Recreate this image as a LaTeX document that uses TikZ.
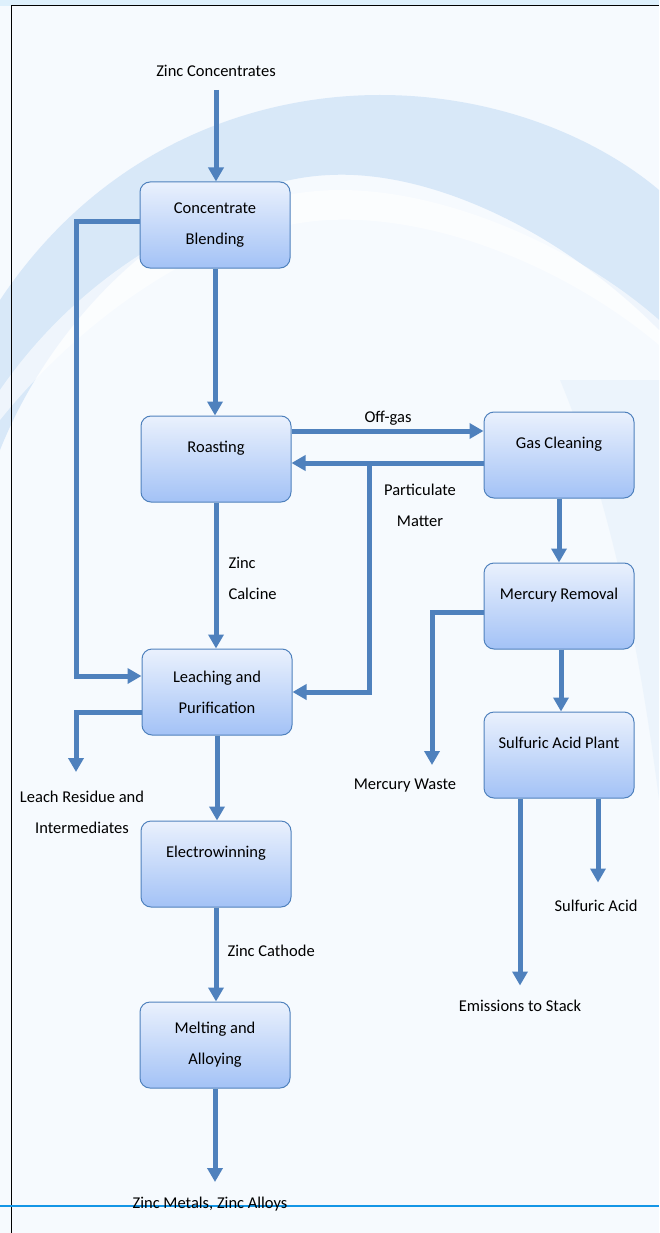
\documentclass[tikz,border=0pt]{standalone}
\usepackage{fontspec}
\setmainfont{Carlito}
\definecolor{flowblue}{RGB}{79,129,189}
\definecolor{boxtop}{RGB}{234,241,253}
\definecolor{boxbottom}{RGB}{163,194,246}
\definecolor{pagebg}{RGB}{246,250,254}
\definecolor{topband}{RGB}{222,240,252}
\definecolor{swoosh}{RGB}{196,220,245}
\definecolor{rulecyan}{RGB}{20,150,230}
\usetikzlibrary{arrows.meta, positioning, calc}

\begin{document}
\begin{tikzpicture}[x=1pt, y=-1pt,
  procbox/.style={draw=flowblue, line width=1pt, rounded corners=10pt, top color=boxtop, bottom color=boxbottom, minimum width=150pt, minimum height=86pt, align=center, font=\fontsize{16.5}{31}\selectfont},
  oneline/.style={text depth=25pt},
  flow/.style={draw=flowblue, line width=5pt, -{Triangle[length=14pt,width=15pt]}},
  lbl/.style={font=\fontsize{16.5}{31}\selectfont, align=center, text=black}]

  % page background
  \useasboundingbox (0,0) rectangle (659,1233);
  \fill[pagebg] (0,0) rectangle (659,1233);
  \fill[topband] (0,0) rectangle (659,6);
  \fill[swoosh, opacity=0.6] (0,300) .. controls (100,150) and (250,95) .. (380,95) .. controls (500,95) and (600,140) .. (659,190)
    -- (659,330) .. controls (560,230) and (430,170) .. (330,175) .. controls (200,180) and (60,300) .. (0,450) -- cycle;
  \fill[white, opacity=0.6] (0,390) .. controls (90,260) and (230,190) .. (340,190) .. controls (450,190) and (580,250) .. (659,320)
    -- (659,345) .. controls (570,270) and (440,215) .. (330,220) .. controls (210,225) and (80,320) .. (0,420) -- cycle;
  \fill[swoosh, opacity=0.18] (560,380) -- (659,380) -- (659,800) .. controls (640,650) and (610,500) .. (560,380) -- cycle;
  \draw[black, line width=1pt] (11,1233) -- (11,6) -- (659,6);
  \draw[rulecyan, line width=2pt] (0,1206) -- (659,1206);

  % process boxes
  \node[procbox] (blend) at (215,225) {Concentrate\\Blending};
  \node[procbox, oneline] (roast) at (216,459) {Roasting};
  \node[procbox] (leach) at (217,692) {Leaching and\\Purification};
  \node[procbox, oneline] (elec) at (216,864) {Electrowinning};
  \node[procbox] (melt) at (215,1045) {Melting and\\Alloying};
  \node[procbox, oneline] (gas) at (559,455) {Gas Cleaning};
  \node[procbox, oneline] (merc) at (559,606) {Mercury Removal};
  \node[procbox, oneline] (acid) at (559,755) {Sulfuric Acid Plant};

  % stream labels
  \node[lbl] (feed) at (216,71) {Zinc Concentrates};
  \node[lbl] (offgas) at (388,418) {Off-gas};
  \node[lbl] (partic) at (420,505) {Particulate\\Matter};
  \node[lbl, align=left, anchor=west] (calcine) at (225,578) {Zinc\\Calcine};
  \node[lbl] (residue) at (82,812) {Leach Residue and\\Intermediates};
  \node[lbl, anchor=west] (cathode) at (224,951) {Zinc Cathode};
  \node[lbl] (product) at (210,1204) {Zinc Metals, Zinc Alloys};
  \node[lbl] (hgwaste) at (405,786) {Mercury Waste};
  \node[lbl] (stack) at (520,1006) {Emissions to Stack};
  \node[lbl] (sulfacid) at (596,906) {Sulfuric Acid};

  \coordinate (blendloop) at (76,676);
  \coordinate (residueend) at (76,772);
  \coordinate (pmsplit) at (369,463);
  \coordinate (hgend) at (432,765);

  % connectors
  \draw[flow] (feed.south |- 0,90) -- (feed.south |- blend.north);
  \draw[flow] ([yshift=3pt]blend.west) -| (blendloop) -- (blendloop -| leach.west);
  \draw[flow] (blend.south) -- (blend.south |- roast.north);
  \draw[flow] ([yshift=28pt]roast.east) -- ([yshift=28pt]roast.east -| gas.west);
  \draw[flow] ([yshift=-8pt]gas.west) -- ([yshift=-8pt]gas.west -| roast.east);
  \draw[flow] (pmsplit) |- (leach.east);
  \draw[flow] (roast.south) -- (roast.south |- leach.north);
  \draw[flow] ([yshift=-20pt]leach.west) -| (residueend);
  \draw[flow] (leach.south) -- (leach.south |- elec.north);
  \draw[flow] (elec.south) -- (elec.south |- melt.north);
  \draw[flow] (melt.south) -- (melt.south |- 0,1182);
  \draw[flow] (gas.south) -- (merc.north);
  \draw[flow] ([yshift=-6pt]merc.west) -| (hgend);
  \draw[flow] ([xshift=2pt]merc.south) -- ([xshift=2pt]acid.north);
  \draw[flow] ([xshift=-39pt]acid.south) -- ++(0,187);
  \draw[flow] ([xshift=39pt]acid.south) -- ++(0,84);
\end{tikzpicture}
\end{document}
